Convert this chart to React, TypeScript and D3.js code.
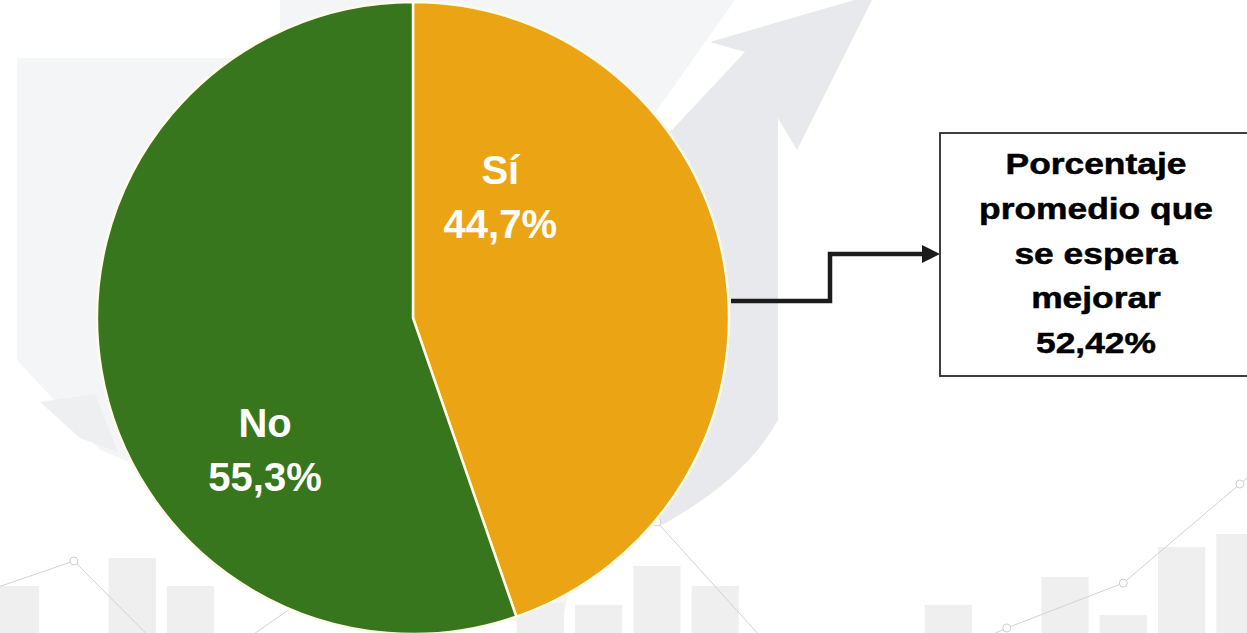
import React from "react";
import * as d3 from "d3";

// ---- data ----
const categories = ["Sí", "No"];
const values = [44.7, 55.3];
const valueLabels = ["44,7%", "55,3%"];
const sliceColors = ["#EBA514", "#37761C"];

const calloutLines = ["Porcentaje", "promedio que", "se espera", "mejorar", "52,42%"];

// decorative background (watermark) bar chart
const decoBarIdx = [0, 2, 3, 9, 10, 11, 12, 16, 18, 19, 20, 21];
const decoBarVals = [47, 75, 47, 30, 28, 67, 47, 28, 56, 18, 86, 99];
const decoLineIdx = [-1, 1, 3, 5, 7, 9, 11, 13, 15, 17, 19, 21, 23];
const decoLineVals = [32, 72, -45, 36, 70, 40, 111, -18, -47, 5, 50, 149, 250];
const decoMarkerIdx = [1, 11, 17, 19, 21];

const W = 1247;
const H = 633;

export default function App() {
  const cx = 413;
  const cy = 318;
  const r = 316;

  const pie = d3
    .pie<number>()
    .sort(null)
    .value((d) => d);
  const arcs = pie(values);
  const arc = d3.arc<d3.PieArcDatum<number>>().innerRadius(0).outerRadius(r);

  // label anchors: angle (deg, clockwise from top) and radius fraction
  const labelAnchor = [
    { ang: 36, rf: 0.47 },
    { ang: 228, rf: 0.63 },
  ];

  // deco scales
  const step = 58.3;
  const xPos = (i: number) => -8 + i * step;
  const bw = step * 0.81;
  const yDeco = d3.scaleLinear().domain([0, 100]).range([H, H - 100]);
  const line = d3
    .line<number>()
    .x((_, i) => xPos(decoLineIdx[i]) + bw / 2)
    .y((v) => yDeco(v));

  const font = "'Liberation Sans', Arial, sans-serif";
  const boxX = 940;
  const boxY = 133;
  const boxW = 320;
  const boxH = 243;
  const textCx = 1096;
  const lineY = d3.scaleLinear().domain([0, 4]).range([174, 353]);

  return (
    <svg
      width={W}
      height={H}
      viewBox={`0 0 ${W} ${H}`}
      style={{ position: "fixed", left: 0, top: 0, background: "#fff" }}
    >
      <rect x={0} y={0} width={W} height={H} fill="#ffffff" />
      {/* watermark background */}
      <path
        d="M17,58 L280,58 L280,0 L735,0 L650,120 L560,640 L100,450 L17,360 Z"
        fill="#f4f5f6"
      />
      <path d="M40,402 L95,394 L118,452 L80,438 Z" fill="#eeeff1" />
      <path
        d="M710,42 L875,-6 L797,150 L778,118 L778,420 Q745,480 660,526 L600,420 L640,140 L672,130 L745,52 Z"
        fill="#e8e9ec"
      />

      {decoBarIdx.map((idx, i) => (
        <rect
          key={"b" + i}
          x={xPos(idx)}
          y={yDeco(decoBarVals[i])}
          width={bw}
          height={H - yDeco(decoBarVals[i])}
          fill="#efefef"
        />
      ))}
      <path d={line(decoLineVals) || ""} fill="none" stroke="#d2d2d2" strokeWidth={1} />
      {decoMarkerIdx.map((idx, i) => {
        const k = decoLineIdx.indexOf(idx);
        return (
          <circle
            key={"m" + i}
            cx={xPos(idx) + bw / 2}
            cy={yDeco(decoLineVals[k])}
            r={4}
            fill="#ffffff"
            stroke="#cfcfcf"
            strokeWidth={1}
          />
        );
      })}

      {/* pie */}
      <g transform={`translate(${cx},${cy})`}>
        {arcs.map((a, i) => (
          <path key={i} d={arc(a) || ""} fill={sliceColors[i]} stroke="#fffbe8" strokeWidth={2.5} strokeLinejoin="round" />
        ))}
        {arcs.map((a, i) => {
          const an = (labelAnchor[i].ang * Math.PI) / 180;
          const lx = Math.sin(an) * r * labelAnchor[i].rf;
          const ly = -Math.cos(an) * r * labelAnchor[i].rf;
          return (
            <text
              key={"t" + i}
              x={lx}
              textAnchor="middle"
              fill="#ffffff"
              fontFamily={font}
              fontWeight="bold"
              fontSize={40}
            >
              <tspan x={lx} y={ly - 14}>{categories[i]}</tspan>
              <tspan x={lx} y={ly + 40}>{valueLabels[i]}</tspan>
            </text>
          );
        })}
      </g>

      {/* connector */}
      <path
        d={`M${cx + r + 2},301 L830,301 L830,254 L924,254`}
        fill="none"
        stroke="#1c1c1c"
        strokeWidth={4.5}
      />
      <path d="M922,245 L940,254 L922,263 Z" fill="#1c1c1c" />

      {/* callout box */}
      <rect x={boxX} y={boxY} width={boxW} height={boxH} fill="#ffffff" stroke="#2b2b2b" strokeWidth={1.8} />
      {calloutLines.map((t, i) => (
        <text
          key={"c" + i}
          transform={`translate(${textCx},${lineY(i)}) scale(1.22,1.04)`}
          textAnchor="middle"
          fontFamily={font}
          fontWeight="bold"
          fontSize={29}
          fill="#000000"
          stroke="#000000"
          strokeWidth={0.5}
        >
          {t}
        </text>
      ))}
    </svg>
  );
}
